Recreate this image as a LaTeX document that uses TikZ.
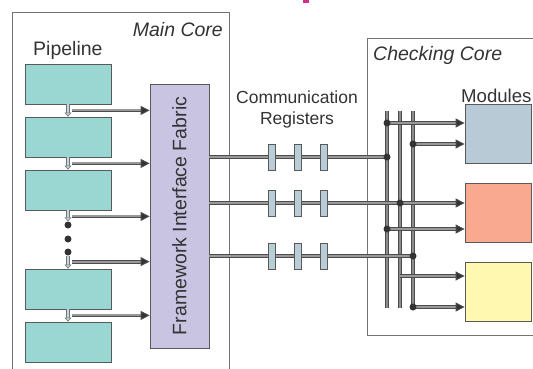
\documentclass[tikz,border=0pt]{standalone}
\usepackage{fontspec}
\setmainfont{Liberation Sans}
\usetikzlibrary{arrows.meta,calc}

\definecolor{pipefill}{HTML}{9AD6D2}
\definecolor{fabfill}{HTML}{C8C4E2}
\definecolor{regfill}{HTML}{B9CDD8}
\definecolor{modA}{HTML}{B8CAD5}
\definecolor{modB}{HTML}{F9A98F}
\definecolor{modC}{HTML}{FFF8B0}
\definecolor{flowin}{HTML}{C4D6DE}
\definecolor{titlepink}{HTML}{D0308A}

\tikzset{
  lbl/.style={font=\fontsize{19.5}{23}\selectfont, text=black!80, inner sep=0pt},
  frame/.style={draw=black!55, line width=0.8pt},
  stage/.style={draw=black!65, fill=pipefill, line width=0.8pt,
    minimum width=86pt, minimum height=40pt, inner sep=0pt},
  fabric/.style={draw=black!65, fill=fabfill, line width=0.8pt,
    minimum width=59pt, minimum height=264pt, inner sep=0pt},
  module/.style={draw=black!65, line width=0.8pt,
    minimum width=66pt, minimum height=59pt, inner sep=0pt},
  reg/.style={draw=black!65, fill=regfill, line width=0.7pt,
    minimum width=7pt, minimum height=26pt, inner sep=0pt},
  dotnode/.style={circle, fill=black!80, minimum size=7pt, inner sep=0pt},
  link/.style={draw=black!70, double=black!40, double distance=2pt, line width=0.9pt},
  bus/.style={draw=black!70, double=black!45, double distance=2.4pt, line width=1pt},
  tip/.style={-{Triangle[length=9pt, width=9pt, fill=black!80]}},
  flow/.style={draw=black!55, double=flowin, double distance=2pt, line width=0.6pt,
    -{Triangle[length=4pt, width=7pt, fill=flowin]}},
}

\begin{document}
\begin{tikzpicture}[x=1pt, y=-1pt]
  \clip (0,0) rectangle (533,368);

  % frames of the two cores
  \draw[frame] (12,12) rectangle (229,380);
  \draw[frame] (367,38) rectangle (545,335);
  \fill[titlepink] (303,-2) rectangle (309,3);

  \node[lbl, anchor=base east] at (223,36) {\itshape Main Core};
  \node[lbl, anchor=base west] at (33,55) {Pipeline};
  \node[lbl, anchor=base west] at (373,60) {\itshape Checking Core};
  \node[lbl, font=\fontsize{18.6}{22}\selectfont, anchor=base west] at (461,102) {Modules};
  \node[lbl, font=\fontsize{17.5}{21}\selectfont, align=center] (cr) at (297,109)
    {Communication\\Registers};

  % pipeline stages
  \foreach \n/\y in {1/84, 2/137, 3/190, 4/289, 5/342}
    \node[stage] (p\n) at (68,\y) {};
  \foreach \n/\y in {1/225, 2/239, 3/252}
    \node[dotnode] (d\n) at (68,\y) {};

  \node[fabric] (fif) at (179.5,216) {};
  \node[lbl, rotate=90] at (fif.center) {Framework Interface Fabric};

  \draw[flow] (p1) -- (p2);
  \draw[flow] (p2) -- (p3);
  \draw[flow] (p3) -- (d1);
  \draw[flow] (d3) -- (p4);
  \draw[flow] (p4) -- (p5);

  % taps into the fabric
  \coordinate (t1) at ($(p1.south)+(4,6)$);
  \coordinate (t2) at ($(p2.south)+(4,6)$);
  \coordinate (t3) at ($(p3.south)+(4,6)$);
  \coordinate (t4) at ($(p4.north)+(4,-7)$);
  \coordinate (t5) at ($(p4.south)+(4,6)$);
  \foreach \i in {1,...,5}
    \draw[link, tip] (t\i) -- (t\i -| fif.west);

  % checking modules
  \node[module, fill=modA] (m1) at (498,133.5) {};
  \node[module, fill=modB] (m2) at (498,212.5) {};
  \node[module, fill=modC] (m3) at (498,292) {};

  % buses
  \coordinate (b1) at (387,111);
  \coordinate (b2) at (400,111);
  \coordinate (b3) at (413,111);
  \draw[bus] (b1) -- (387,308);
  \draw[bus] (b2) -- (400,308);
  \draw[bus] (b3) -- (413,307);

  % communication lines
  \coordinate (c1) at (fif.east |- 0,157);
  \coordinate (c2) at (fif.east |- 0,203);
  \coordinate (c3) at (fif.east |- 0,256);
  \coordinate (j1) at (b1 |- c1);
  \coordinate (j2) at (b2 |- c2);
  \coordinate (j3) at (b3 |- c3);
  \draw[link] (c1) -- (j1);
  \draw[link, tip] (c2) -- (c2 -| m2.west);
  \draw[link] (c3) -- (j3);
  \foreach \r in {1,2,3}
    \foreach \k/\x in {1/272, 2/298, 3/324}
      \node[reg] (reg\r\k) at (\x,0 |- c\r) {};

  % bus to modules
  \coordinate (k1) at (b1 |- 0,123);
  \coordinate (k2) at (b3 |- 0,144);
  \coordinate (k3) at (b1 |- 0,229);
  \coordinate (k4) at (b2 |- 0,276);
  \coordinate (k5) at (b3 |- 0,307);
  \draw[link, tip] (k1) -- (k1 -| m1.west);
  \draw[link, tip] (k2) -- (k2 -| m1.west);
  \draw[link, tip] (k3) -- (k3 -| m2.west);
  \draw[link, tip] (k4) -- (k4 -| m3.west);
  \draw[link, tip] (k5) -- (k5 -| m3.west);

  \foreach \c in {k1, k2, k3, k5, j1, j2, j3}
    \node[dotnode] at (\c) {};
\end{tikzpicture}
\end{document}
